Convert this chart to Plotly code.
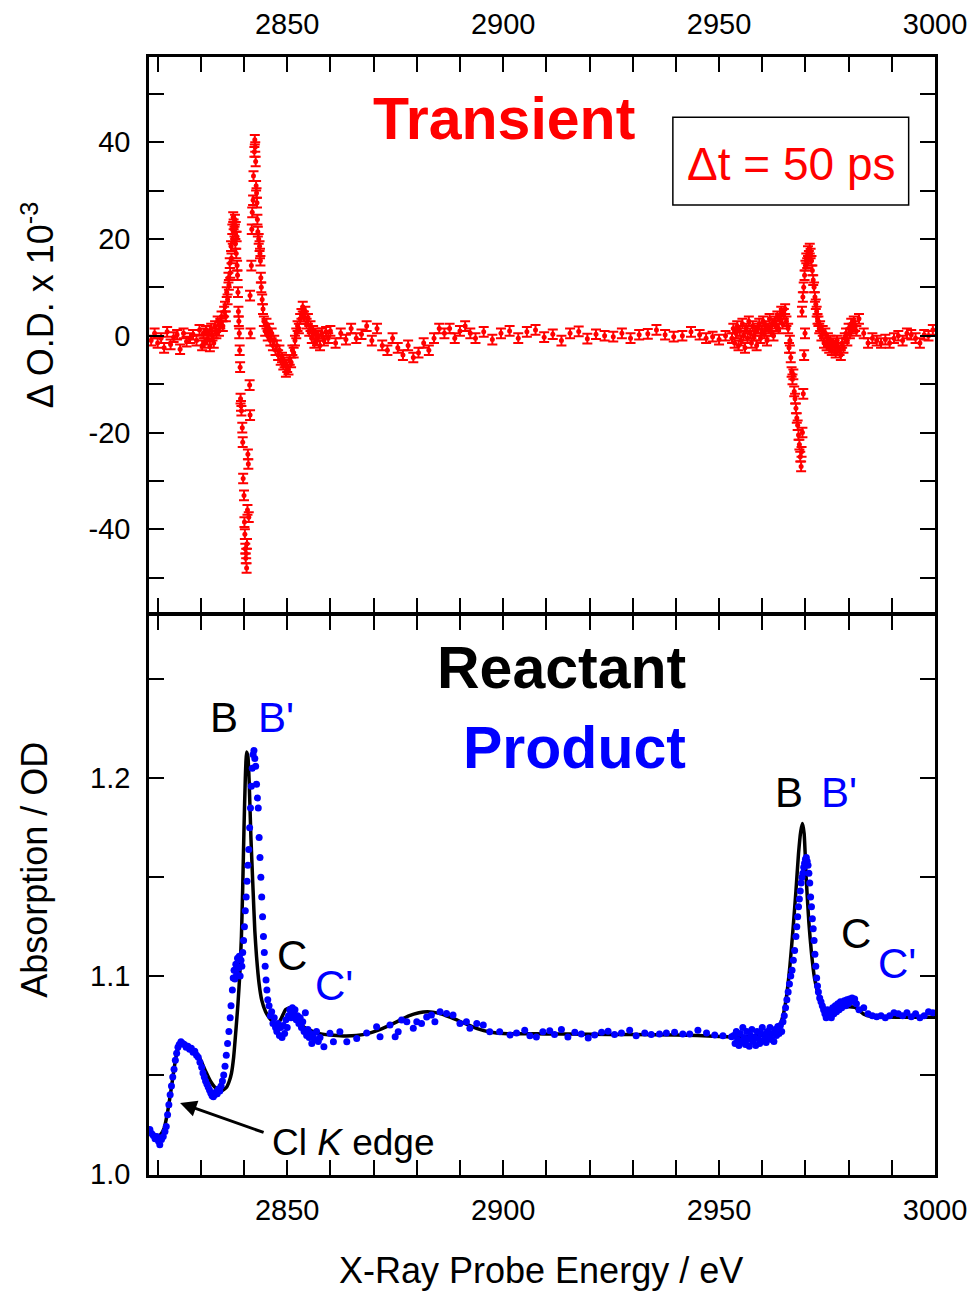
import plotly.graph_objects as go

# ---------------- data: transient (top panel) ----------------
E_TR = [
    2818.5, 2819.3, 2820.0, 2820.8, 2821.5, 2822.2, 2823.0, 2823.7, 2824.5, 2825.2, 2826.0, 2826.7,
    2827.5, 2828.2, 2829.0, 2829.7,
    2830.3, 2830.6, 2830.9, 2831.2, 2831.5, 2831.8, 2832.1, 2832.4, 2832.7, 2833.0, 2833.3, 2833.6,
    2833.9, 2834.2, 2834.5, 2834.8, 2835.1, 2835.4,
    2835.6, 2835.8, 2836.0, 2836.2, 2836.4, 2836.5, 2836.7, 2836.8, 2837.0, 2837.1, 2837.3, 2837.4,
    2837.5, 2837.6, 2837.8, 2837.9, 2838.0, 2838.1, 2838.2, 2838.3, 2838.4, 2838.5, 2838.6, 2838.7,
    2838.8, 2838.9,
    2839.0, 2839.1, 2839.2, 2839.3, 2839.4, 2839.6, 2839.7, 2839.8, 2840.0, 2840.1, 2840.2, 2840.3,
    2840.4, 2840.5, 2840.6, 2840.7, 2840.8, 2840.9, 2841.0, 2841.1,
    2841.3, 2841.4, 2841.4, 2841.5, 2841.7, 2841.8, 2841.9, 2842.1, 2842.2, 2842.4, 2842.5, 2842.6,
    2842.7, 2842.8, 2842.9, 2843.0, 2843.1, 2843.2, 2843.4, 2843.6, 2843.7, 2843.8, 2843.9, 2844.0,
    2844.2, 2844.4,
    2844.6, 2844.9, 2845.2, 2845.5, 2845.8, 2846.1, 2846.4, 2846.7, 2847.0, 2847.3, 2847.6, 2847.9,
    2848.2, 2848.5, 2848.8, 2849.1, 2849.4, 2849.7, 2850.0, 2850.3, 2850.6, 2850.9, 2851.2, 2851.5,
    2851.8, 2852.1, 2852.4, 2852.7, 2853.0, 2853.3, 2853.6, 2853.9, 2854.2, 2854.5, 2854.8, 2855.1,
    2855.4, 2855.7, 2856.0, 2856.3, 2856.6, 2856.9, 2857.2, 2857.6, 2858.0, 2858.5, 2859.0, 2859.5,
    2860.0, 2861.2, 2862.4, 2863.6, 2864.8, 2866.0, 2867.2, 2868.4, 2869.6, 2870.8, 2872.0, 2873.2,
    2874.4, 2875.6, 2876.8, 2878.0, 2879.2, 2880.4, 2881.6, 2882.8, 2884.0, 2885.2, 2886.4, 2887.6,
    2888.8, 2890.0, 2891.2, 2892.4, 2893.6, 2895.5, 2897.5, 2899.5, 2901.5, 2903.5, 2905.5, 2907.5,
    2909.5, 2911.5, 2913.5, 2915.5, 2917.5, 2919.5, 2921.5, 2923.5, 2925.5, 2927.5, 2929.5, 2931.5,
    2933.5, 2935.5, 2937.5, 2939.5, 2941.5, 2943.5, 2945.5, 2947.0, 2948.5, 2950.0, 2951.5,
    2953.0, 2953.3, 2953.6, 2953.9, 2954.2, 2954.5, 2954.8, 2955.1, 2955.4, 2955.7, 2956.0, 2956.3,
    2956.6, 2956.9, 2957.2, 2957.5, 2957.8, 2958.1, 2958.4, 2958.7, 2959.0, 2959.3, 2959.6, 2959.9,
    2960.2, 2960.5, 2960.8, 2961.1, 2961.4, 2961.7, 2962.0, 2962.3, 2962.6, 2962.9, 2963.2, 2963.5,
    2963.8, 2964.1, 2964.4, 2964.7, 2965.0, 2965.3, 2965.6,
    2966.0, 2966.2, 2966.4, 2966.6, 2966.8, 2967.0, 2967.2, 2967.4, 2967.6, 2967.8, 2968.0, 2968.2,
    2968.4, 2968.6, 2968.8, 2969.0, 2969.1, 2969.2, 2969.3, 2969.4, 2969.5, 2969.6, 2969.7, 2969.8,
    2969.9, 2970.0, 2970.2, 2970.4, 2970.6, 2970.8, 2971.0, 2971.2, 2971.4, 2971.6, 2971.8, 2972.0,
    2972.2, 2972.4, 2972.6, 2972.8, 2973.0, 2973.2,
    2973.4, 2973.7, 2974.0, 2974.3, 2974.6, 2974.9, 2975.2, 2975.5, 2975.8, 2976.1, 2976.4, 2976.7,
    2977.0, 2977.3, 2977.6, 2977.9, 2978.2, 2978.5, 2978.8, 2979.1, 2979.4, 2979.7, 2980.0, 2980.3,
    2980.6, 2980.9, 2981.2, 2981.5, 2981.8, 2982.4,
    2983.5, 2984.5, 2985.5, 2986.5, 2987.5, 2988.5, 2989.5, 2990.5, 2991.5, 2992.5, 2993.5, 2994.5,
    2995.5, 2996.5, 2997.5, 2998.5, 2999.5,
]
DOD_TR = [
    -1.0, 0.5, -1.5, -0.5, -2.5, 0.8, -1.8, -0.3, 0.2, -2.8, 0.5, -1.2,
    -0.5, 0.2, -1.0, 1.2,
    -2.0, 0.5, -1.5, 1.0, -0.8, 0.3, -2.2, 1.5, 0.0, -1.5, 2.0, 0.5,
    3.0, 1.0, 2.5, 4.0, 2.0, 5.0,
    6.0, 4.0, 9.0, 7.5, 12.0, 10.5, 15.0, 13.0, 18.5, 16.0, 22.0, 20.0,
    24.5, 23.0, 21.5, 24.0, 19.0, 22.5, 17.0, 20.5, 14.5, 12.5, 9.0, 5.0,
    3.0, 0.5,
    -3.0, -6.5, -13.0, -14.5, -15.5, -19.0, -22.0, -29.5, -33.0, -38.5, -41.0, -44.0,
    -46.0, -45.0, -48.0, -43.0, -36.0, -24.5, -26.5, -37.5,
    -10.2, -16.4, 8.3, 0.5, 14.5, 22.0, 25.5, 28.0, 33.0, 38.0, 40.5, 39.0,
    36.0, 31.0, 29.5, 27.5, 24.0, 21.5, 20.0, 18.5, 17.0, 15.5, 12.0, 10.0,
    7.5, 5.5,
    3.0, 1.0, 2.5, 0.0, 1.5, -1.0, 0.5, -2.0, -1.0, -3.0, -2.0, -4.0,
    -3.0, -5.0, -4.5, -6.0, -5.5, -7.5, -6.5, -7.0, -5.0, -5.5, -3.0, -3.5,
    -1.0, 0.5, 2.0, 1.5, 3.5, 4.5, 6.0, 4.0, 5.0, 2.5, 3.5, 1.0,
    2.0, -0.5, 1.0, -1.5, 0.5, -1.0, 0.0, -2.0, 0.5, -1.0, 0.8, -0.5,
    1.0, -1.5, 0.5, -0.8, 1.5, -0.5, 0.3, 2.0, -1.0, 1.5, -2.0, -3.0,
    -0.5, -2.5, -4.0, -2.0, -4.5, -3.5, -1.5, -3.0, -0.5, 1.5, 0.5, 1.5,
    -0.5, 1.0, 2.0, 0.5, -0.5, 0.8, -0.8, 0.5, 1.0, -0.5, 0.8, 1.2,
    -0.3, 0.3, -1.0, 0.5, 0.9, -0.6, 0.3, 0.0, -0.2, 0.5, -0.5, 0.2,
    0.4, 1.2, 0.2, -0.2, 0.0, 0.8, 0.2, -0.5, -0.2, -0.8, 0.0,
    -0.5, 1.5, -1.5, 0.5, 2.0, -2.0, 1.0, -1.0, 2.5, 0.0, -2.5, 1.5,
    -0.5, 3.0, 0.5, -1.5, 2.0, 0.0, 1.0, -2.0, 1.5, 2.5, -0.5, 1.0,
    3.0, 0.5, 2.0, -1.0, 1.5, 3.5, 1.0, 2.5, 0.0, 3.0, 2.0, 4.0,
    1.5, 3.5, 5.0, 2.5, 4.5, 5.5, 3.0,
    1.5, -2.5, -1.0, -4.5, -7.5, -9.0, -8.0, -11.5, -13.0, -15.0, -17.0, -18.5,
    -20.5, -22.5, -25.0, -27.0, -24.0, 5.0, -20.0, 8.0, -12.0, 10.0, -4.0, 12.5,
    0.5, 14.5, 16.0, 15.0, 17.5, 16.5, 18.0, 17.0, 15.5, 13.5, 11.5, 10.0,
    8.0, 6.5, 5.0, 3.5, 3.0, 1.5,
    2.0, 0.0, 1.0, -1.5, 0.5, -2.0, -0.5, -2.5, -1.0, -3.0, -1.5, -2.0,
    -3.5, -1.0, -2.5, -3.0, -4.0, -1.5, -2.5, -0.5, 0.5, -1.0, 1.5, 0.5,
    2.5, 1.5, 3.0, 2.0, 1.0, 3.5,
    0.5, -1.5, -0.5, -1.0, -1.5, -0.8, -1.5, -0.5, 0.0, -1.0, 0.5, 0.2,
    -0.5, -1.5, 0.2, 0.0, 1.2,
]
DOD_ERR = 1.0  # typical half-length of the error bars (x 10^-3)

# ---------------- data: reactant (black line) ----------------
E_REACT = [
    2818.0, 2819.0, 2819.8, 2820.7, 2821.5, 2822.2, 2822.8, 2823.4, 2824.0, 2824.6, 2825.3, 2826.2,
    2827.2, 2828.2, 2829.2, 2830.2, 2831.2, 2832.2, 2833.2, 2834.2, 2835.0, 2836.0, 2836.6, 2837.1,
    2837.6, 2838.1, 2838.6, 2839.0, 2839.4, 2839.7, 2840.0, 2840.3, 2840.6, 2840.9, 2841.2, 2841.6,
    2842.1, 2842.5, 2842.9, 2843.5, 2844.1, 2845.0, 2846.0, 2847.0, 2847.6, 2848.6, 2849.6, 2850.6,
    2851.5, 2852.5, 2854.0, 2855.5, 2857.0, 2860.0, 2863.0, 2866.0, 2869.0, 2872.0, 2875.0, 2878.0,
    2880.5, 2882.5, 2885.0, 2888.0, 2891.0, 2894.0, 2897.0, 2900.0, 2910.0, 2920.0, 2930.0, 2940.0,
    2945.0, 2950.0, 2954.0, 2957.0, 2960.0, 2962.5, 2963.8, 2964.8, 2965.6, 2966.4, 2967.1, 2967.8,
    2968.4, 2968.9, 2969.3, 2969.7, 2970.2, 2970.8, 2971.4, 2972.1, 2972.9, 2973.8, 2974.8, 2976.0,
    2978.0, 2980.0, 2981.5, 2982.5, 2983.5, 2985.0, 2988.0, 2995.0, 3000.0,
]
OD_REACT = [
    1.0215, 1.0195, 1.0188, 1.0200, 1.0230, 1.0300, 1.0380, 1.0470, 1.0560, 1.0625, 1.0650, 1.0652,
    1.0645, 1.0630, 1.0605, 1.0565, 1.0515, 1.0470, 1.0440, 1.0425, 1.0422, 1.0440, 1.0470, 1.0510,
    1.0590, 1.0720, 1.0860, 1.1000, 1.1200, 1.1450, 1.1750, 1.2000, 1.2133, 1.2110, 1.1980, 1.1700,
    1.1434, 1.1230, 1.1098, 1.0960, 1.0879, 1.0820, 1.0785, 1.0762, 1.0752, 1.0785, 1.0830, 1.0840,
    1.0810, 1.0770, 1.0740, 1.0725, 1.0712, 1.0702, 1.0698, 1.0700, 1.0712, 1.0735, 1.0765, 1.0798,
    1.0815, 1.0820, 1.0813, 1.0790, 1.0762, 1.0735, 1.0718, 1.0710, 1.0708, 1.0706, 1.0705, 1.0703,
    1.0700, 1.0695, 1.0692, 1.0695, 1.0703, 1.0715, 1.0740, 1.0800, 1.0895, 1.1050, 1.1232, 1.1430,
    1.1620, 1.1730, 1.1771, 1.1720, 1.1485, 1.1270, 1.1116, 1.0990, 1.0914, 1.0860, 1.0832, 1.0830,
    1.0840, 1.0845, 1.0842, 1.0825, 1.0808, 1.0797, 1.0793, 1.0792, 1.0792,
]

# ---------------- data: product (blue dots) ----------------
E_PROD = [
    2818.2, 2818.6, 2819.0, 2819.4, 2819.8, 2820.2, 2820.5, 2820.9, 2821.3, 2821.7, 2822.0,
    2822.3, 2822.6, 2822.9, 2823.2, 2823.5, 2823.8, 2824.1, 2824.4, 2824.7, 2825.0, 2825.4, 2825.8,
    2826.2, 2826.6, 2827.0, 2827.4, 2827.8, 2828.2, 2828.6, 2829.0, 2829.4, 2829.8,
    2830.2, 2830.5, 2830.8, 2831.1, 2831.4, 2831.7, 2832.0, 2832.3, 2832.6, 2832.9, 2833.2, 2833.5,
    2833.8, 2834.1, 2834.4, 2834.7, 2835.0, 2835.3, 2835.6, 2835.9, 2836.2, 2836.5, 2836.8, 2837.0,
    2837.3, 2837.5, 2837.7, 2837.9, 2838.1, 2838.3, 2838.5, 2838.7, 2838.9, 2839.1, 2839.3, 2839.5,
    2839.7, 2839.9, 2840.1, 2840.3, 2840.5, 2840.7, 2840.9, 2841.1, 2841.3, 2841.5, 2841.7, 2841.9,
    2842.1, 2842.3, 2842.5, 2842.7, 2842.9, 2843.1, 2843.3, 2843.5, 2843.7, 2843.9, 2844.1, 2844.3,
    2844.5, 2844.7, 2844.9, 2845.1, 2845.3, 2845.5, 2845.8, 2846.1, 2846.4, 2846.7, 2847.0, 2847.3,
    2847.6, 2847.9, 2848.2, 2848.5, 2848.8, 2849.1, 2849.4, 2849.7, 2850.0, 2850.3, 2850.6, 2850.9,
    2851.2, 2851.5, 2851.8, 2852.1, 2852.4, 2852.7, 2853.0, 2853.3, 2853.6, 2853.9, 2854.2, 2854.5,
    2854.8, 2855.1, 2855.4, 2855.7, 2856.0, 2856.4, 2856.8, 2857.2, 2857.6,
    2858.5, 2859.9, 2860.7, 2862.2, 2863.8, 2866.1, 2868.4, 2870.7, 2871.5, 2873.8, 2875.0, 2875.7,
    2876.5, 2877.7, 2879.2, 2880.0, 2881.1, 2882.3, 2883.4, 2884.2, 2885.4, 2886.9, 2888.4, 2890.0,
    2891.5, 2892.3, 2893.9, 2895.4, 2896.9, 2899.2, 2901.6, 2903.1, 2905.0, 2906.2, 2907.7, 2909.2,
    2910.8, 2911.9, 2913.5, 2915.0, 2916.6, 2918.1, 2919.7, 2921.2, 2922.8, 2924.3, 2925.8, 2927.4,
    2929.3, 2930.8, 2932.8, 2934.3, 2936.2, 2937.8, 2939.7, 2941.6, 2943.2, 2945.1, 2947.1, 2949.0,
    2950.9, 2952.9,
    2953.4, 2953.7, 2954.0, 2954.3, 2954.6, 2954.9, 2955.2, 2955.5, 2955.8, 2956.1, 2956.4, 2956.7,
    2957.0, 2957.3, 2957.6, 2957.9, 2958.2, 2958.5, 2958.8, 2959.1, 2959.4, 2959.7, 2960.0, 2960.3,
    2960.6, 2960.9, 2961.2, 2961.5, 2961.8, 2962.1, 2962.4, 2962.7, 2963.0, 2963.3, 2963.6, 2963.9,
    2964.2, 2964.5, 2964.8, 2965.1,
    2965.4, 2965.7, 2966.0, 2966.3, 2966.6, 2966.9, 2967.2, 2967.5, 2967.8, 2968.0, 2968.2, 2968.4,
    2968.6, 2968.8, 2969.0, 2969.2, 2969.4, 2969.6, 2969.8, 2970.0, 2970.2, 2970.4, 2970.6, 2970.8,
    2971.0, 2971.2, 2971.4, 2971.6, 2971.8, 2972.0, 2972.2, 2972.4, 2972.6, 2972.8, 2973.0, 2973.3,
    2973.6, 2973.9, 2974.2, 2974.5, 2974.8, 2975.1, 2975.4, 2975.7, 2976.0, 2976.3, 2976.6, 2976.9,
    2977.2, 2977.5, 2977.8, 2978.1, 2978.4, 2978.7, 2979.0, 2979.3, 2979.6, 2979.9, 2980.2, 2980.5,
    2980.8, 2981.1, 2981.4, 2981.8, 2982.4,
    2983.5, 2984.5, 2985.5, 2986.5, 2987.5, 2988.5, 2989.5, 2990.5, 2991.5, 2992.5, 2993.5, 2994.5,
    2995.5, 2996.5, 2997.5, 2998.5, 2999.5,
]
OD_PROD = [
    1.0225, 1.0205, 1.0195, 1.0178, 1.0190, 1.0165, 1.0148, 1.0175, 1.0190, 1.0215, 1.0240,
    1.0300, 1.0350, 1.0400, 1.0445, 1.0490, 1.0530, 1.0575, 1.0610, 1.0640, 1.0655, 1.0668, 1.0660,
    1.0655, 1.0640, 1.0645, 1.0630, 1.0635, 1.0615, 1.0620, 1.0600, 1.0590, 1.0565,
    1.0540, 1.0510, 1.0490, 1.0470, 1.0455, 1.0440, 1.0425, 1.0410, 1.0395, 1.0390, 1.0400, 1.0415,
    1.0405, 1.0430, 1.0420, 1.0445, 1.0470, 1.0500, 1.0545, 1.0600, 1.0660, 1.0720, 1.0790, 1.0850,
    1.0930, 1.0990, 1.1030, 1.0985, 1.1060, 1.1010, 1.1090, 1.1040, 1.1100, 1.1000, 1.1080, 1.1050,
    1.1120, 1.1180, 1.1250, 1.1330, 1.1400, 1.1480, 1.1560, 1.1640, 1.1750, 1.1850, 1.1960, 1.2050,
    1.2120, 1.2140, 1.2100, 1.2060, 1.1970, 1.1900, 1.1850, 1.1700, 1.1600, 1.1500, 1.1400, 1.1300,
    1.1200, 1.1120, 1.1050, 1.0980, 1.0930, 1.0880, 1.0850, 1.0800, 1.0820, 1.0760, 1.0790, 1.0740,
    1.0720, 1.0760, 1.0700, 1.0740, 1.0690, 1.0750, 1.0710, 1.0780, 1.0740, 1.0800, 1.0830, 1.0790,
    1.0840, 1.0810, 1.0830, 1.0780, 1.0800, 1.0760, 1.0790, 1.0740, 1.0770, 1.0720, 1.0815, 1.0700,
    1.0730, 1.0690, 1.0710, 1.0660, 1.0700, 1.0680, 1.0720, 1.0670, 1.0690,
    1.0643, 1.0711, 1.0668, 1.0719, 1.0668, 1.0685, 1.0712, 1.0744, 1.0693, 1.0753, 1.0693, 1.0719,
    1.0778, 1.0769, 1.0736, 1.0769, 1.0761, 1.0794, 1.0803, 1.0769, 1.0820, 1.0811, 1.0803, 1.0761,
    1.0769, 1.0736, 1.0761, 1.0753, 1.0719, 1.0719, 1.0702, 1.0712, 1.0727, 1.0699, 1.0692, 1.0719,
    1.0724, 1.0705, 1.0730, 1.0692, 1.0717, 1.0707, 1.0687, 1.0702, 1.0716, 1.0721, 1.0705, 1.0713,
    1.0727, 1.0699, 1.0713, 1.0705, 1.0707, 1.0713, 1.0717, 1.0707, 1.0707, 1.0727, 1.0713, 1.0702,
    1.0699, 1.0694,
    1.0700, 1.0660, 1.0720, 1.0680, 1.0650, 1.0710, 1.0670, 1.0740, 1.0690, 1.0655, 1.0720, 1.0680,
    1.0645, 1.0700, 1.0730, 1.0670, 1.0690, 1.0650, 1.0720, 1.0685, 1.0660, 1.0710, 1.0740, 1.0675,
    1.0700, 1.0665, 1.0720, 1.0690, 1.0740, 1.0680, 1.0710, 1.0670, 1.0730, 1.0700, 1.0745, 1.0710,
    1.0750, 1.0720, 1.0770, 1.0800,
    1.0840, 1.0880, 1.0920, 1.0960, 1.1000, 1.1030, 1.1080, 1.1130, 1.1200, 1.1250, 1.1300, 1.1350,
    1.1390, 1.1430, 1.1470, 1.1500, 1.1520, 1.1550, 1.1570, 1.1590, 1.1600, 1.1580, 1.1560, 1.1520,
    1.1470, 1.1400, 1.1350, 1.1290, 1.1240, 1.1180, 1.1110, 1.1050, 1.0990, 1.0950, 1.0920, 1.0890,
    1.0870, 1.0850, 1.0830, 1.0810, 1.0790, 1.0830, 1.0800, 1.0820, 1.0790, 1.0840, 1.0810, 1.0850,
    1.0820, 1.0860, 1.0830, 1.0870, 1.0840, 1.0860, 1.0875, 1.0850, 1.0880, 1.0860, 1.0885, 1.0870,
    1.0890, 1.0875, 1.0885, 1.0860, 1.0830,
    1.0840, 1.0810, 1.0800, 1.0795, 1.0800, 1.0790, 1.0800, 1.0815, 1.0810, 1.0800, 1.0815, 1.0795,
    1.0810, 1.0790, 1.0800, 1.0820, 1.0815,
]

# ---------------- tick definitions ----------------
X_TICKVALS = [2820, 2830, 2840, 2850, 2860, 2870, 2880, 2890, 2900, 2910, 2920, 2930, 2940,
              2950, 2960, 2970, 2980, 2990, 3000]
X_TICKTEXT = ["", "", "", "2850", "", "", "", "", "2900", "", "", "", "",
              "2950", "", "", "", "", "3000"]
Y_TR_TICKVALS = [-50, -40, -30, -20, -10, 0, 10, 20, 30, 40, 50]
Y_TR_TICKTEXT = ["", "-40", "", "-20", "", "0", "", "20", "", "40", ""]
Y_OD_TICKVALS = [1.00, 1.05, 1.10, 1.15, 1.20, 1.25]
Y_OD_TICKTEXT = ["1.0", "", "1.1", "", "1.2", ""]

FONT = "Liberation Sans, Arial, sans-serif"
RED = "#FF0000"
BLUE = "#0000FF"

fig = go.Figure()
fig.add_trace(go.Scatter(
    x=E_TR, y=DOD_TR, mode="markers", xaxis="x2", yaxis="y2",
    marker=dict(color=RED, size=5),
    error_y=dict(type="constant", value=DOD_ERR, color=RED, thickness=2, width=5),
    showlegend=False))
fig.add_trace(go.Scatter(
    x=E_REACT, y=OD_REACT, mode="lines",
    line=dict(color="black", width=3.5, shape="spline", smoothing=0.5),
    showlegend=False))
fig.add_trace(go.Scatter(
    x=E_PROD, y=OD_PROD, mode="markers",
    marker=dict(color=BLUE, size=7),
    showlegend=False))

axis_common = dict(
    showline=True, linewidth=2.5, linecolor="black", mirror="ticks",
    ticks="inside", ticklen=15, tickwidth=2.2, tickcolor="black",
    showgrid=False, zeroline=False, tickmode="array", automargin=False,
    tickfont=dict(family=FONT, size=29, color="black"),
)

# panel boundaries (fraction of plot height); the top panel starts one line-width
# higher so that the two frame lines at the junction coincide
Y_SPLIT_BOTTOM = 0.5009
Y_SPLIT_TOP = 0.5031

fig.update_layout(
    width=973, height=1292, autosize=False,
    margin=dict(l=149, r=38, t=57, b=117),
    paper_bgcolor="white", plot_bgcolor="white",
    font=dict(family=FONT, color="black"),
    xaxis=dict(axis_common, domain=[0, 1], anchor="y", side="bottom", range=[2818, 3000],
               tickvals=X_TICKVALS, ticktext=X_TICKTEXT, ticklabelstandoff=7),
    yaxis=dict(axis_common, domain=[0, Y_SPLIT_BOTTOM], anchor="x", range=[0.9995, 1.2825],
               tickvals=Y_OD_TICKVALS, ticktext=Y_OD_TICKTEXT, ticklabelstandoff=10),
    xaxis2=dict(axis_common, domain=[0, 1], anchor="y2", side="top", range=[2818, 3000],
                matches="x", tickvals=X_TICKVALS, ticktext=X_TICKTEXT, ticklabelstandoff=9),
    yaxis2=dict(axis_common, domain=[Y_SPLIT_TOP, 1], anchor="x2", range=[-57.2, 57.6],
                tickvals=Y_TR_TICKVALS, ticktext=Y_TR_TICKTEXT, ticklabelstandoff=10),
)

ann = []
# axis titles
ann.append(dict(text="Δ O.D. x 10<sup>-3</sup>", xref="paper", yref="paper", x=-0.141, y=0.778,
                xanchor="center", yanchor="middle",
                textangle=-90, showarrow=False, font=dict(family=FONT, size=36)))
ann.append(dict(text="Absorption / OD", xref="paper", yref="paper", x=-0.145, y=0.273,
                xanchor="center", yanchor="middle",
                textangle=-90, showarrow=False, font=dict(family=FONT, size=36)))
ann.append(dict(text="X-Ray Probe Energy / eV", xref="paper", yref="paper", x=0.499, y=-0.085,
                xanchor="center", yanchor="middle",
                showarrow=False, font=dict(family=FONT, size=36)))
# top panel texts
ann.append(dict(text="<b>Transient</b>", xref="x2", yref="y2", x=2900.2, y=44.7,
                xanchor="center", yanchor="middle",
                showarrow=False, font=dict(family=FONT, size=59, color=RED)))
ann.append(dict(text="Δt = 50 ps", xref="x2", yref="y2", x=2966.6, y=35.5,
                xanchor="center", yanchor="middle",
                showarrow=False, font=dict(family=FONT, size=46, color=RED)))
# bottom panel texts
ann.append(dict(text="<b>Reactant</b>", xref="x", yref="y", x=2942.8, y=1.2556, xanchor="right",
                yanchor="middle",
                showarrow=False, font=dict(family=FONT, size=59, color="black")))
ann.append(dict(text="<b>Product</b>", xref="x", yref="y", x=2942.8, y=1.2152, xanchor="right",
                yanchor="middle",
                showarrow=False, font=dict(family=FONT, size=59, color=BLUE)))
LBL = [("B", 2835.4, 1.2308, "black"), ("B'", 2847.4, 1.2308, BLUE),
       ("C", 2851.1, 1.1106, "black"), ("C'", 2860.8, 1.0955, BLUE),
       ("B", 2966.2, 1.1929, "black"), ("B'", 2977.7, 1.1929, BLUE),
       ("C", 2981.7, 1.1217, "black"), ("C'", 2991.1, 1.1066, BLUE)]
for t, xx, yy, c in LBL:
    ann.append(dict(text=t, xref="x", yref="y", x=xx, y=yy, showarrow=False,
                    xanchor="center", yanchor="middle",
                    font=dict(family=FONT, size=42, color=c)))
ann.append(dict(text="Cl <i>K</i> edge", xref="x", yref="y", x=2846.0, y=1.0157, xanchor="left",
                yanchor="middle",
                showarrow=False, font=dict(family=FONT, size=37, color="black")))
ann.append(dict(text="", xref="x", yref="y", x=2825.2, y=1.0359, ax=85, ay=30,
                showarrow=True, arrowhead=2, arrowsize=1.1, arrowwidth=3, arrowcolor="black",
                standoff=0, startstandoff=0))
fig.update_layout(annotations=ann)

fig.add_shape(type="rect", xref="x2", yref="y2", x0=2939.3, x1=2993.9, y0=27.0, y1=45.15,
              line=dict(color="black", width=1.5), fillcolor="rgba(0,0,0,0)")

fig.write_html("out.html")
